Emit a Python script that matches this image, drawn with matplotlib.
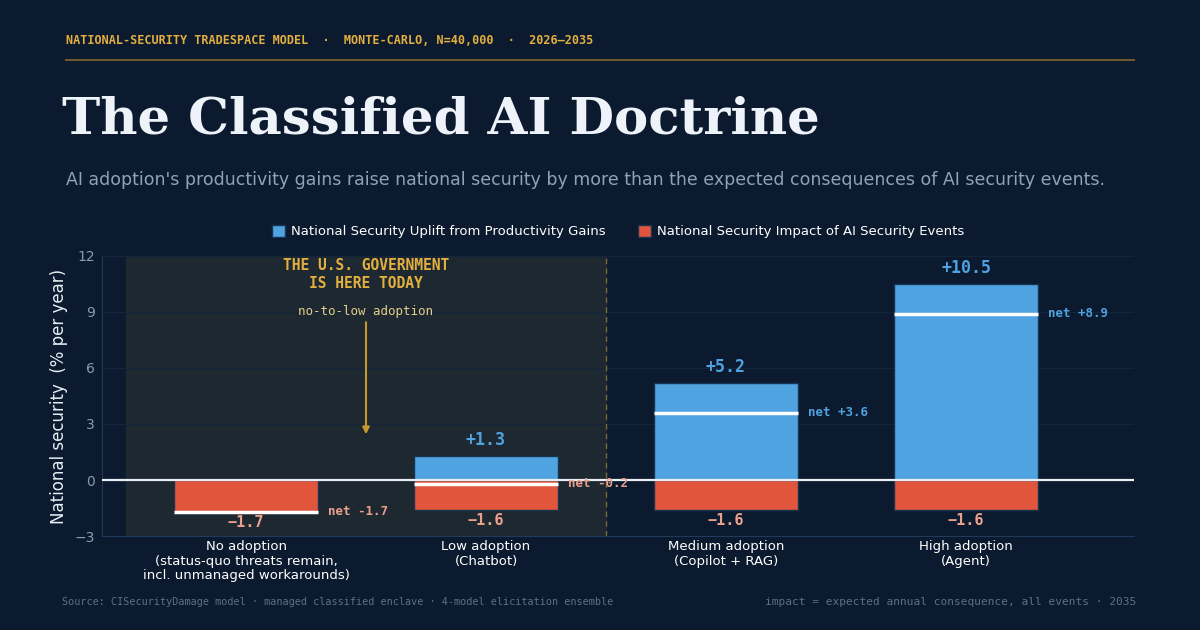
import numpy as np
import matplotlib.pyplot as plt

categories = [
    "No adoption\n(status-quo threats remain,\nincl. unmanaged workarounds)",
    "Low adoption\n(Chatbot)",
    "Medium adoption\n(Copilot + RAG)",
    "High adoption\n(Agent)",
]
uplift = [0.0, 1.3, 5.2, 10.5]
impact = [-1.7, -1.6, -1.6, -1.6]
net = [-1.7, -0.2, 3.6, 8.9]

BG = "#0b1a2e"
BLUE = "#4fa3e0"
RED = "#e0553c"
SALMON = "#eba08e"
GOLD = "#e3b040"
MONO = "DejaVu Sans Mono"

fig = plt.figure(figsize=(12, 6.3), dpi=100, facecolor=BG)
ax = fig.add_axes([0.085, 0.149, 0.86, 0.445], facecolor=BG)

x = np.arange(len(categories))
w = 0.6

# shaded "today" zone
ax.axvspan(-0.5, 1.5, color="#1e2830", zorder=0)
ax.axvline(1.5, color="#7a6a3a", lw=1, ls=(0, (4, 3)), zorder=1)

for yv in [-3, 3, 6, 9, 12]:
    ax.axhline(yv, color="#13253b", lw=0.8, zorder=0.5)

ax.bar(x, uplift, w, color=BLUE, edgecolor="#173452", lw=1, zorder=2,
       label="National Security Uplift from Productivity Gains")
ax.bar(x, impact, w, color=RED, edgecolor="#173452", lw=1, zorder=2,
       label="National Security Impact of AI Security Events")
ax.axhline(0, color="#e8eef5", lw=1.6, zorder=3)

for xi, u, im, n in zip(x, uplift, impact, net):
    ax.plot([xi - w / 2, xi + w / 2], [n, n], color="white", lw=2.5,
            solid_capstyle="butt", zorder=4)
    c = BLUE if n > 0 else SALMON
    ax.annotate(f"net {n:+.1f}", (xi + w / 2, n), xytext=(7, 0),
                textcoords="offset points", ha="left", va="center",
                family=MONO, fontweight="bold", fontsize=9, color=c, zorder=5)
    if u > 0:
        ax.annotate(f"+{u:.1f}", (xi, u), xytext=(0, 5),
                    textcoords="offset points", ha="center", va="bottom",
                    family=MONO, fontweight="bold", fontsize=12, color=BLUE, zorder=5)
    ax.annotate(f"\u2212{abs(im):.1f}", (xi, im), xytext=(0, -2),
                textcoords="offset points", ha="center", va="top",
                family=MONO, fontweight="bold", fontsize=11, color=SALMON, zorder=5)

# callout
ax.text(0.5, 11.9, "THE U.S. GOVERNMENT\nIS HERE TODAY", ha="center", va="top",
        family=MONO, fontweight="bold", fontsize=10.5, color=GOLD,
        linespacing=1.3, zorder=5)
ax.text(0.5, 9.0, "no-to-low adoption", ha="center", va="center",
        family=MONO, fontsize=9, color="#e5cf8a", zorder=5)
ax.annotate("", xy=(0.5, 2.3), xytext=(0.5, 8.6),
            arrowprops=dict(arrowstyle="-|>", color="#c9972e", lw=1.5,
                            mutation_scale=10), zorder=5)

ax.set_xlim(-0.6, 3.7)
ax.set_ylim(-3, 12)
ax.set_yticks([-3, 0, 3, 6, 9, 12])
ax.set_yticklabels(["\u22123", "0", "3", "6", "9", "12"])
ax.set_xticks(x)
ax.set_xticklabels(categories, fontsize=9.5, color="white", linespacing=1.15)
ax.tick_params(axis="y", colors="#8a9bb0", labelsize=10, length=0, pad=5)
ax.tick_params(axis="x", length=0, pad=3)
for s in ["top", "right"]:
    ax.spines[s].set_visible(False)
for s in ["left", "bottom"]:
    ax.spines[s].set_color("#1f3a5a")
ax.set_ylabel("National security  (% per year)", fontsize=12, color="#e8eef5",
              labelpad=5)

leg = ax.legend(loc="lower center", bbox_to_anchor=(0.5, 1.02), ncol=2,
                frameon=False, fontsize=9.5, handlelength=1.0, handleheight=1.0,
                handletextpad=0.45, columnspacing=2.4, labelcolor="white")

# header
fig.text(0.055, 0.936, "NATIONAL-SECURITY TRADESPACE MODEL  \u00b7  MONTE-CARLO, N=40,000  \u00b7  2026\u20132035",
         family=MONO, fontweight="bold", fontsize=8.5, color=GOLD, va="center")
fig.add_artist(plt.Line2D([0.055, 0.945], [0.905, 0.905], color="#6b5a2e", lw=1.5))
fig.text(0.052, 0.810, "The Classified AI Doctrine", family="DejaVu Serif",
         fontweight="bold", fontsize=37, color="#eef3fa", va="center")
fig.text(0.055, 0.715, "AI adoption's productivity gains raise national security by more than the expected consequences of AI security events.",
         fontsize=12.5, color="#8fa3b8", va="center")

# footer
fig.text(0.052, 0.045, "Source: CISecurityDamage model \u00b7 managed classified enclave \u00b7 4-model elicitation ensemble",
         family=MONO, fontsize=7.3, color="#5f7085", va="center")
fig.text(0.947, 0.045, "impact = expected annual consequence, all events \u00b7 2035",
         family=MONO, fontsize=8, color="#5f7085", va="center", ha="right")

fig.savefig("out.png", dpi=100, facecolor=BG)
